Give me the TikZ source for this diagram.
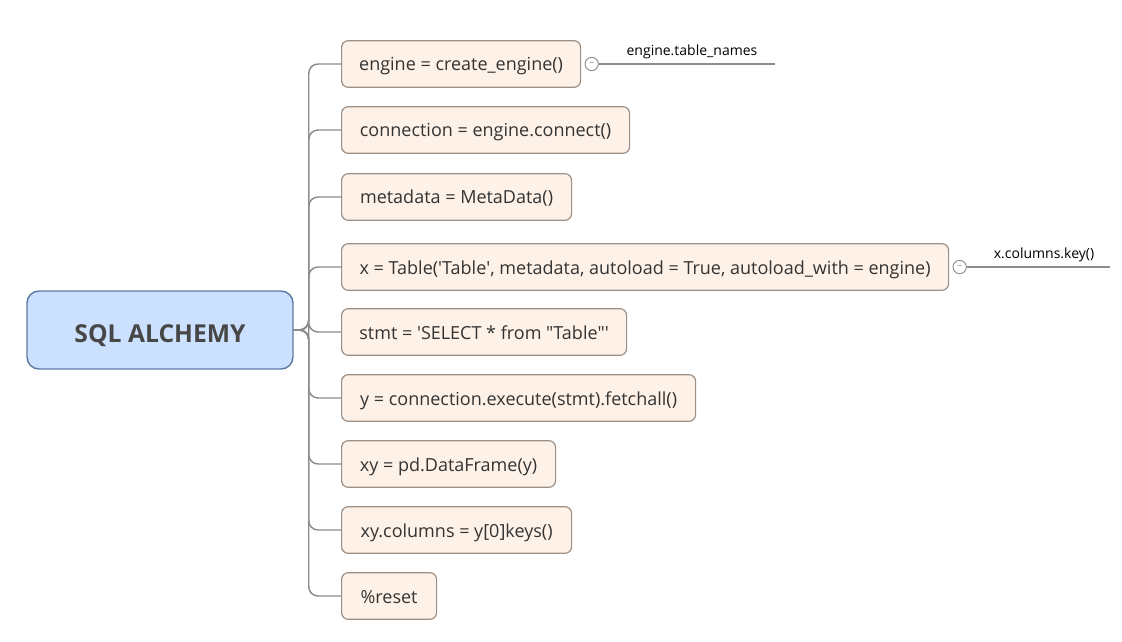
\documentclass[tikz,border=0pt]{standalone}
\usepackage{fontspec}
\setmainfont{Open Sans}
\usetikzlibrary{positioning}

\definecolor{rootfill}{HTML}{CCE0FF}
\definecolor{rootline}{HTML}{5D7BA3}
\definecolor{boxfill}{HTML}{FEF1E7}
\definecolor{boxline}{HTML}{9B8F86}
\definecolor{linegray}{HTML}{8C8C8C}
\definecolor{textgray}{HTML}{333333}

\tikzset{
  root/.style={draw=rootline, fill=rootfill, line width=1.1pt, rounded corners=9pt,
    minimum width=199.5pt, minimum height=58.5pt, text height=18.5pt, text depth=0pt,
    font=\fontsize{18.5}{22}\selectfont\bfseries, text=textgray!90},
  branch/.style={draw=boxline, fill=boxfill, line width=0.9pt, rounded corners=5pt,
    anchor=west, minimum height=35pt, text height=13.5pt, text depth=3pt,
    font=\fontsize{13.5}{16}\selectfont, text=textgray},
  boxw/.style={minimum width=#1*0.75pt},
  branchline/.style={draw=linegray, line width=1.1pt, rounded corners=7pt},
  fold/.style={circle, draw=linegray, fill=white, line width=0.7pt, inner sep=0pt,
    minimum size=10pt, font=\fontsize{7}{7}\selectfont, text=linegray},
  tip/.style={font=\fontsize{10.5}{12}\selectfont, text=black, anchor=south}
}

\begin{document}
\begin{tikzpicture}[x=0.75pt, y=-0.75pt]
  \useasboundingbox (0,0) rectangle (1122,642);

  \node[root] (root) at (160,330) {SQL ALCHEMY};

  % branches
  \node[branch, boxw=239] (b1) at (341,64)  {engine = create\_engine()};
  \node[branch, boxw=288] (b2) at (341,130) {connection = engine.connect()};
  \node[branch, boxw=230] (b3) at (341,197) {metadata = MetaData()};
  \node[branch, boxw=607] (b4) at (341,267) {x = Table(\textquotesingle Table\textquotesingle, metadata, autoload = True, autoload\_with = engine)};
  \node[branch, boxw=285] (b5) at (341,332) {stmt = \textquotesingle SELECT * from \textquotedbl Table\textquotedbl\textquotesingle};
  \node[branch, boxw=354] (b6) at (341,398) {y = connection.execute(stmt).fetchall()};
  \node[branch, boxw=214] (b7) at (341,464) {xy = pd.DataFrame(y)};
  \node[branch, boxw=230] (b8) at (341,530) {xy.columns = y[0]keys()};
  \node[branch, boxw=95]  (b9) at (341,596) {\%reset};

  \foreach \b in {1,...,9}
    \draw[branchline] (root.east) -- ++(15,0) |- (b\b.west);

  % sub topics
  \node[fold] (f1) [right=2.5pt of b1] {--};
  \coordinate (e1) at (775,64);
  \draw[linegray, line width=1.1pt] (f1) -- (e1);
  \node[tip] at (692,63.5) {engine.table\_names};

  \node[fold] (f4) [right=2.5pt of b4] {--};
  \coordinate (e4) at (1110,267);
  \draw[linegray, line width=1.1pt] (f4) -- (e4);
  \node[tip] at (1044,267) {x.columns.key()};
\end{tikzpicture}
\end{document}
